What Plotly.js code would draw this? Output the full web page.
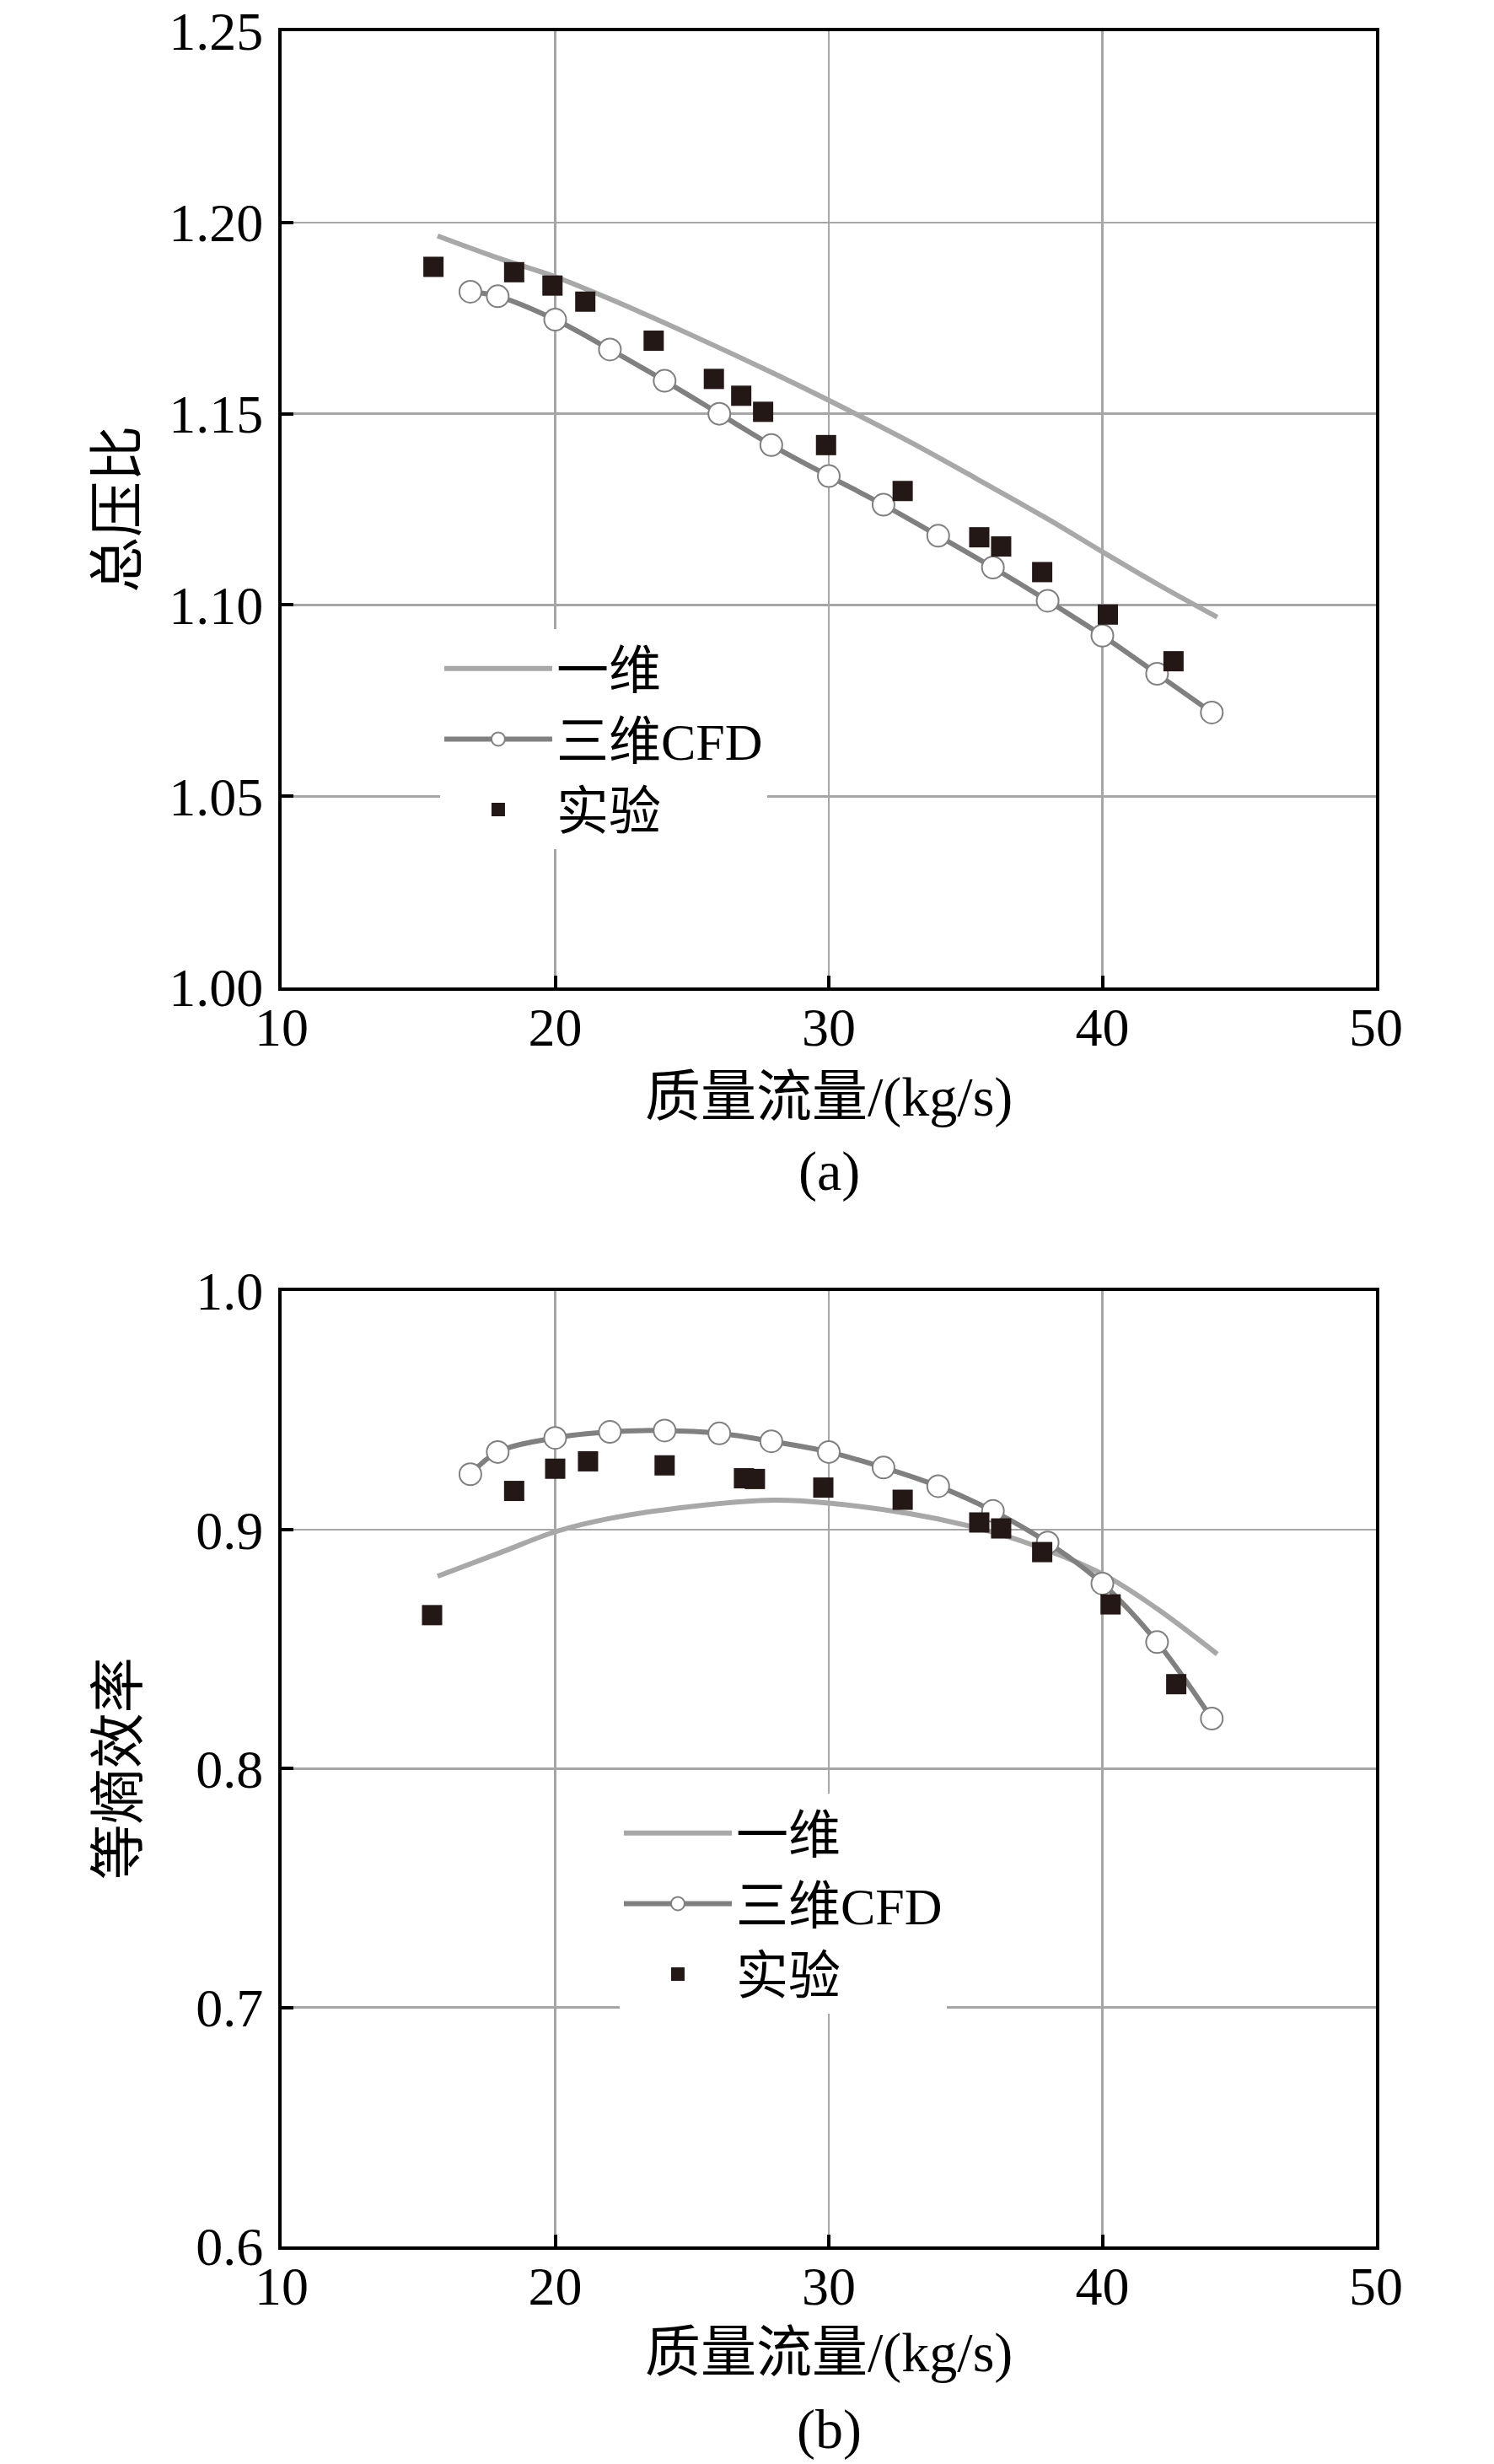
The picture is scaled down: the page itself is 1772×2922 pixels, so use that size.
<!DOCTYPE html>
<html>
<head>
<meta charset="utf-8">
<script src="https://cdn.plot.ly/plotly-3.0.1.min.js"></script>
<style>
  body { margin: 0; background: #fff; }
  #plot { width: 1772px; height: 2922px; }
</style>
</head>
<body>
<div id="plot"></div>
<script>
// (a) total pressure ratio vs mass flow
var oneDFlowA = [15.7, 18.0, 20.0, 22.0, 25.0, 28.0, 30.0, 33.0, 35.0, 38.0, 40.0, 42.0, 44.2];
var oneDPrA = [1.1965, 1.1905, 1.1858, 1.1800, 1.1705, 1.1605, 1.1535, 1.1425, 1.1346, 1.1225, 1.1139, 1.1055, 1.0968];

var cfdFlow = [16.9, 17.9, 20.0, 22.0, 24.0, 26.0, 27.9, 30.0, 32.0, 34.0, 36.0, 38.0, 40.0, 42.0, 44.0];
var cfdPr = [1.1819, 1.1807, 1.1746, 1.1668, 1.1586, 1.1500, 1.1418, 1.1337, 1.1262, 1.1181, 1.1098, 1.1011, 1.0920, 1.0820, 1.0719];

var expFlow = [15.55, 18.5, 19.9, 21.1, 23.6, 25.8, 26.8, 27.6, 29.9, 32.7, 35.5, 36.3, 37.8, 40.2, 42.6];
var expPr = [1.1884, 1.1870, 1.1835, 1.1793, 1.1691, 1.1591, 1.1547, 1.1505, 1.1418, 1.1298, 1.1177, 1.1153, 1.1086, 1.0975, 1.0853];

// (b) isentropic efficiency vs mass flow
var oneDFlowB = [15.7, 18.0, 20.0, 22.0, 25.0, 28.0, 30.0, 33.0, 35.0, 37.0, 40.0, 42.0, 44.2];
var oneDEff = [0.8806, 0.8905, 0.8992, 0.9048, 0.9098, 0.9124, 0.9112, 0.9067, 0.9020, 0.8955, 0.8815, 0.8670, 0.8480];

var cfdEff = [0.9233, 0.9326, 0.9385, 0.9410, 0.9416, 0.9404, 0.9371, 0.9326, 0.9261, 0.9183, 0.9079, 0.8947, 0.8775, 0.8530, 0.8210];

var expFlowB = [15.5, 18.5, 20.0, 21.2, 24.0, 26.9, 27.3, 29.8, 32.7, 35.5, 36.3, 37.8, 40.3, 42.7];
var expEff = [0.8643, 0.9163, 0.9256, 0.9287, 0.9270, 0.9216, 0.9213, 0.9177, 0.9126, 0.9031, 0.9006, 0.8907, 0.8688, 0.8354];

var xTicks = [10, 20, 30, 40, 50];
var prTicks = [1.00, 1.05, 1.10, 1.15, 1.20, 1.25];
var effTicks = [0.6, 0.7, 0.8, 0.9, 1.0];

var names = ['一维', '三维CFD', '实验'];
var xTitle = '质量流量/(kg/s)';
var fontFam = '"Liberation Serif", "Noto Sans CJK SC", serif';

var oneDColor = '#a8a8a8';
var cfdColor = '#808080';
var expColor = '#231815';

function traces(xa, ya, leg, oneDx, oneDy, cfdy, ex, ey) {
  return [
    {
      x: oneDx, y: oneDy, xaxis: xa, yaxis: ya, legend: leg,
      name: names[0], mode: 'lines', line: {color: oneDColor, width: 6, shape: 'spline'}
    },
    {
      x: cfdFlow, y: cfdy, xaxis: xa, yaxis: ya, legend: leg,
      name: names[1], mode: 'lines+markers', line: {color: cfdColor, width: 6, shape: 'spline'},
      marker: {symbol: 'circle', size: 26, color: '#ffffff', line: {color: cfdColor, width: 2}}
    },
    {
      x: ex, y: ey, xaxis: xa, yaxis: ya, legend: leg,
      name: names[2], mode: 'markers',
      marker: {symbol: 'square', size: 24, color: expColor}
    }
  ];
}

var data = traces('x', 'y', 'legend', oneDFlowA, oneDPrA, cfdPr, expFlow, expPr)
  .concat(traces('x2', 'y2', 'legend2', oneDFlowB, oneDEff, cfdEff, expFlowB, expEff));

var axisBase = {
  showline: true, linecolor: '#000', linewidth: 4, mirror: true,
  ticks: 'inside', ticklen: 14, tickwidth: 4, tickcolor: '#000',
  showgrid: true, gridcolor: '#a6a6a6', gridwidth: 2.5,
  zeroline: false,
  tickfont: {family: fontFam, size: 64, color: '#000'}
};

function ax(extra) { return Object.assign({}, axisBase, extra); }

var legendBase = {
  bgcolor: '#ffffff', borderwidth: 0,
  font: {family: fontFam, size: 62, color: '#000'},
  itemwidth: 128, xanchor: 'left', yanchor: 'top'
};

function note(text, x, y, angle) {
  return {text: text, xref: 'paper', yref: 'paper', x: x, y: y, xanchor: 'center', yanchor: 'middle',
    textangle: angle || 0, showarrow: false, font: {family: fontFam, size: 66, color: '#000'}};
}

var layout = {
  width: 1772, height: 2922,
  margin: {l: 334, r: 140, t: 37, b: 258},
  paper_bgcolor: '#ffffff', plot_bgcolor: '#ffffff',
  font: {family: fontFam, size: 66, color: '#000'},
  showlegend: true,
  xaxis: ax({domain: [0, 1], range: [10, 50], tickvals: xTicks, anchor: 'y', ticklabelstandoff: -12}),
  yaxis: ax({domain: [0.5683, 1], range: [1.0, 1.25], tickvals: prTicks, tickformat: '.2f', anchor: 'x', ticklabelstandoff: 5}),
  xaxis2: ax({domain: [0, 1], range: [10, 50], tickvals: xTicks, anchor: 'y2', ticklabelstandoff: -12}),
  yaxis2: ax({domain: [0, 0.4313], range: [0.6, 1.0], tickvals: effTicks, tickformat: '.1f', anchor: 'x2', ticklabelstandoff: 5}),
  legend: Object.assign({}, legendBase, {x: 0.1448, y: 0.7301}),
  legend2: Object.assign({}, legendBase, {x: 0.3089, y: 0.2044}),
  annotations: [
    note('总压比', -0.1495, 0.7842, -90),
    note(xTitle, 0.5, 0.5188),
    note('(a)', 0.5, 0.4853),
    note('等熵效率', -0.1495, 0.2157, -90),
    note(xTitle, 0.5, -0.0480),
    note('(b)', 0.5, -0.0826)
  ]
};

Plotly.newPlot('plot', data, layout, {displayModeBar: false, staticPlot: true});
</script>
</body>
</html>
